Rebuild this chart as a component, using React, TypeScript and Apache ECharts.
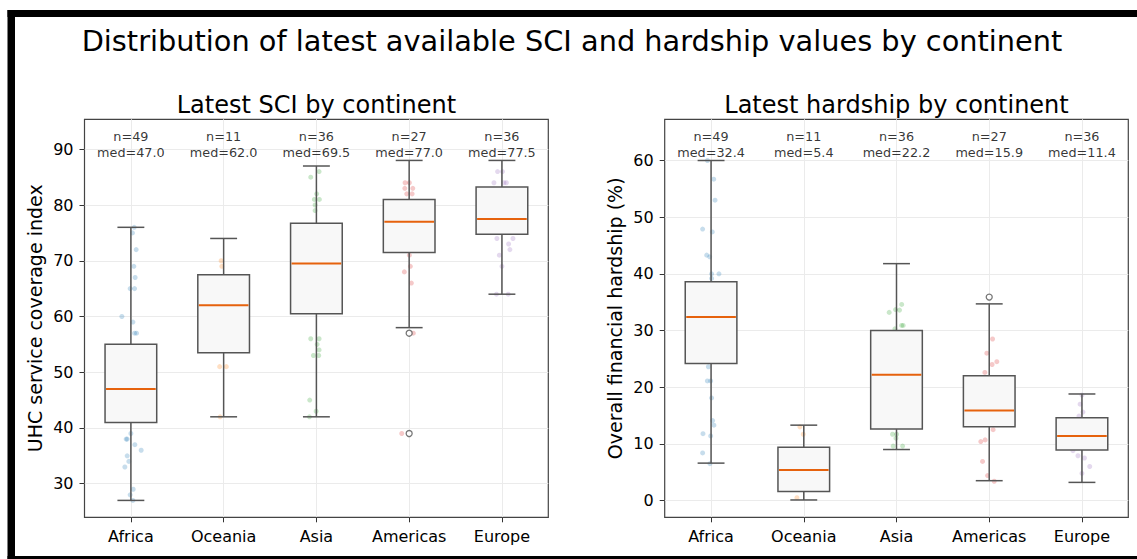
import React, { useEffect, useRef } from 'react';
import * as echarts from 'echarts';

const FONT = 'DejaVu Sans';

const continents = ['Africa', 'Oceania', 'Asia', 'Americas', 'Europe'];
const counts = [49, 11, 36, 27, 36];
const pointColors = ['#1f77b4', '#ff7f0e', '#2ca02c', '#d62728', '#9467bd'];

// SCI box statistics
const sciLow = [27, 42, 42, 58, 64];
const sciQ1 = [41, 53.5, 60.5, 71.5, 74.75];
const sciMed = [47.0, 62.0, 69.5, 77.0, 77.5];
const sciQ3 = [55, 67.5, 76.75, 81, 83.25];
const sciHigh = [76, 74, 87, 88, 88];
const sciOutliers = [[3, 57], [3, 39]];
const sciTicks = [30, 40, 50, 60, 70, 80, 90];

// Hardship box statistics
const hardLow = [6.6, 0.1, 9.0, 3.5, 3.2];
const hardQ1 = [24.2, 1.6, 12.6, 13.0, 8.9];
const hardMed = [32.4, 5.4, 22.2, 15.9, 11.4];
const hardQ3 = [38.6, 9.4, 30.0, 22.0, 14.6];
const hardHigh = [60.0, 13.3, 41.8, 34.7, 18.8];
const hardOutliers = [[3, 35.9]];
const hardTicks = [0, 10, 20, 30, 40, 50, 60];

// jittered points: [offset from category centre, value]
const sciAfrica = [[0.036, 76], [0.017, 75], [0.057, 72], [0.032, 69], [0.046, 67], [-0.008, 65], [0.04, 65], [-0.097, 60], [0.022, 59], [0.04, 57], [0.061, 57], [0.0, 39], [-0.04, 38], [-0.051, 38], [0.043, 37], [0.111, 36], [-0.04, 35], [-0.022, 34], [-0.065, 33], [0.025, 29], [-0.008, 28], [0.022, 27]];
const sciOceania = [[-0.027, 70], [-0.02, 69], [-0.043, 51], [0.029, 51], [-0.038, 42]];
const sciAsia = [[0.029, 86], [-0.061, 85], [0.003, 82], [-0.022, 81], [0.032, 81], [-0.014, 80], [-0.014, 79], [-0.061, 56], [0.029, 56], [0.008, 55], [0.029, 54], [-0.032, 53], [0.025, 53], [-0.072, 45], [-0.003, 43], [-0.075, 42]];
const sciAmericas = [[-0.044, 84], [0.002, 84], [-0.047, 83], [0.039, 83], [-0.026, 82], [0.032, 82], [0.002, 71], [0.013, 69], [-0.052, 68], [0.024, 66], [0.045, 57], [-0.08, 39]];
const sciEurope = [[-0.047, 86], [0.006, 86], [-0.086, 84], [0.022, 84], [0.048, 84], [-0.054, 74], [0.119, 74], [0.072, 73], [0.086, 72], [-0.028, 71], [0.0, 69], [-0.059, 64], [0.068, 64]];

const hardAfrica = [[-0.039, 60.0], [0.029, 56.7], [0.043, 53.0], [-0.091, 47.9], [0.013, 47.4], [-0.047, 43.3], [-0.015, 43.0], [0.006, 40.0], [0.085, 40.0], [0.006, 39.2], [-0.029, 23.6], [-0.04, 21.1], [-0.004, 21.1], [0.006, 18.1], [0.017, 14.1], [0.031, 13.3], [-0.087, 11.8], [-0.004, 11.4], [-0.091, 8.4], [-0.012, 6.5]];
const hardOceania = [[-0.042, 13.0], [-0.006, 11.7], [-0.074, 0.5]];
const hardAsia = [[0.056, 34.6], [-0.079, 33.2], [-0.01, 33.7], [0.033, 33.6], [0.055, 30.9], [0.072, 30.9], [-0.017, 30.3], [-0.043, 11.7], [0.001, 11.7], [-0.006, 11.0], [-0.036, 9.6], [0.066, 9.6]];
const hardAmericas = [[0.036, 28.5], [-0.026, 26.0], [0.031, 24.0], [0.082, 24.5], [-0.047, 22.6], [0.042, 12.5], [-0.091, 10.4], [-0.044, 10.7], [-0.072, 6.9], [-0.018, 4.4], [0.054, 3.4]];
const hardEurope = [[0.0, 18.6], [-0.02, 17.0], [0.011, 15.6], [-0.032, 14.9], [-0.097, 8.8], [-0.043, 7.9], [0.027, 7.5], [0.084, 6.0], [0.0, 4.8]];

const sciPoints = [sciAfrica, sciOceania, sciAsia, sciAmericas, sciEurope];
const hardPoints = [hardAfrica, hardOceania, hardAsia, hardAmericas, hardEurope];

const BOX_EDGE = '#555555';
const MEDIAN = '#e6620d';
const GRIDLINE = '#ebebeb';

function boxRender(params: any, api: any) {
  const idx = api.value(0);
  const lo = api.coord([idx, api.value(1)]);
  const q1 = api.coord([idx, api.value(2)]);
  const md = api.coord([idx, api.value(3)]);
  const q3 = api.coord([idx, api.value(4)]);
  const hi = api.coord([idx, api.value(5)]);
  const band = api.size([1, 0])[0];
  const bw = band * 0.557;
  const cw = band * 0.29;
  const cx = q1[0];
  const ls = { stroke: BOX_EDGE, lineWidth: 1.5, fill: null };
  return {
    type: 'group',
    children: [
      { type: 'line', shape: { x1: cx, y1: q3[1], x2: cx, y2: hi[1] }, style: ls },
      { type: 'line', shape: { x1: cx, y1: q1[1], x2: cx, y2: lo[1] }, style: ls },
      { type: 'line', shape: { x1: cx - cw / 2, y1: hi[1], x2: cx + cw / 2, y2: hi[1] }, style: ls },
      { type: 'line', shape: { x1: cx - cw / 2, y1: lo[1], x2: cx + cw / 2, y2: lo[1] }, style: ls },
      {
        type: 'rect',
        shape: { x: cx - bw / 2, y: q3[1], width: bw, height: q1[1] - q3[1] },
        style: { fill: '#f8f8f8', stroke: BOX_EDGE, lineWidth: 1.5 },
      },
      { type: 'line', shape: { x1: cx - bw / 2 + 1, y1: md[1], x2: cx + bw / 2 - 1, y2: md[1] }, style: { stroke: MEDIAN, lineWidth: 2 } },
    ],
  };
}

function buildOption() {
  const catAxis = (gi: number) => ({
    gridIndex: gi,
    type: 'category',
    data: continents,
    boundaryGap: true,
    axisLine: { show: false, onZero: false },
    axisTick: { show: true, interval: 0, alignWithLabel: true, length: 5, lineStyle: { color: '#333', width: 1 } },
    axisLabel: { interval: 0, fontSize: 16, color: '#000', margin: 11, fontFamily: FONT },
    splitLine: { show: true, interval: 0, alignWithLabel: true, lineStyle: { color: GRIDLINE, width: 1 } },
  });
  const valAxisHidden = (gi: number) => ({ gridIndex: gi, type: 'value', min: -0.5, max: 4.5, show: false, axisLine: { onZero: false } });
  const yAx = (gi: number, min: number, max: number, ticks: number[], name: string) => ({
    gridIndex: gi,
    type: 'value',
    min,
    max,
    name,
    nameLocation: 'middle',
    nameGap: 40,
    nameTextStyle: { fontSize: 19, color: '#000', fontFamily: FONT },
    axisLine: { show: false, onZero: false },
    axisTick: { show: true, length: 5, customValues: ticks, lineStyle: { color: '#333', width: 1 } },
    axisLabel: { fontSize: 16, color: '#000', margin: 11, fontFamily: FONT, customValues: ticks },
    splitLine: { show: true, lineStyle: { color: GRIDLINE, width: 1 } },
  });

  const series: any[] = [];
  const panels = [
    { gi: 0, pts: sciPoints, low: sciLow, q1: sciQ1, med: sciMed, q3: sciQ3, high: sciHigh, out: sciOutliers, annotY: 90.86 },
    { gi: 1, pts: hardPoints, low: hardLow, q1: hardQ1, med: hardMed, q3: hardQ3, high: hardHigh, out: hardOutliers, annotY: 62.82 },
  ];
  panels.forEach((p) => {
    p.pts.forEach((arr, ci) => {
      series.push({
        type: 'scatter',
        xAxisIndex: 2 + p.gi,
        yAxisIndex: p.gi,
        symbolSize: 5,
        silent: true,
        z: 1,
        itemStyle: { color: pointColors[ci], opacity: 0.25 },
        data: arr.map(([o, v]) => [ci + o, v]),
      });
    });
    series.push({
      type: 'custom',
      xAxisIndex: p.gi,
      yAxisIndex: p.gi,
      z: 2,
      silent: true,
      renderItem: boxRender,
      encode: { x: 0, y: [1, 2, 3, 4, 5] },
      data: continents.map((_, i) => [i, p.low[i], p.q1[i], p.med[i], p.q3[i], p.high[i]]),
    });
    series.push({
      type: 'scatter',
      xAxisIndex: 2 + p.gi,
      yAxisIndex: p.gi,
      symbol: 'circle',
      symbolSize: 6,
      z: 3,
      silent: true,
      itemStyle: { color: '#ffffff', borderColor: BOX_EDGE, borderWidth: 1.3 },
      data: p.out,
    });
    series.push({
      type: 'scatter',
      xAxisIndex: p.gi,
      yAxisIndex: p.gi,
      symbolSize: 0,
      z: 4,
      silent: true,
      data: continents.map((_, i) => [i, p.annotY]),
      label: {
        show: true,
        position: 'inside',
        fontSize: 12.8,
        lineHeight: 15.6,
        color: '#000',
        fontFamily: FONT,
        formatter: (prm: any) => `n=${counts[prm.dataIndex]}\nmed=${p.med[prm.dataIndex].toFixed(1)}`,
      },
    });
  });

  return {
    animation: false,
    backgroundColor: '#ffffff',
    textStyle: { fontFamily: FONT },
    grid: [
      { left: 84.5, top: 119.3, width: 463.8, height: 398, show: true, borderColor: '#444', borderWidth: 1.2, backgroundColor: 'transparent' },
      { left: 664.7, top: 119.3, width: 463.6, height: 398, show: true, borderColor: '#444', borderWidth: 1.2, backgroundColor: 'transparent' },
    ],
    xAxis: [catAxis(0), catAxis(1), valAxisHidden(0), valAxisHidden(1)],
    yAxis: [
      yAx(0, 23.97, 95.38, sciTicks, 'UHC service coverage index'),
      yAx(1, -2.96, 67.27, hardTicks, 'Overall financial hardship (%)'),
    ],
    graphic: [
      { type: 'rect', shape: { x: 7.5, y: 10, width: 1130, height: 7 }, style: { fill: '#000' } },
      { type: 'rect', shape: { x: 7.5, y: 10, width: 7.5, height: 549 }, style: { fill: '#000' } },
      { type: 'rect', shape: { x: 7.5, y: 556, width: 1130, height: 3 }, style: { fill: '#000' } },
      { type: 'text', x: 572, y: 40.5, style: { text: 'Distribution of latest available SCI and hardship values by continent', fontSize: 28.8, fontFamily: FONT, fill: '#000', textAlign: 'center', textVerticalAlign: 'middle' } },
      { type: 'text', x: 316.4, y: 105, style: { text: 'Latest SCI by continent', fontSize: 24, fontFamily: FONT, fill: '#000', textAlign: 'center', textVerticalAlign: 'middle' } },
      { type: 'text', x: 896.5, y: 105, style: { text: 'Latest hardship by continent', fontSize: 24, fontFamily: FONT, fill: '#000', textAlign: 'center', textVerticalAlign: 'middle' } },
    ],
    series,
  };
}

export default function App() {
  const ref = useRef<HTMLDivElement>(null);
  useEffect(() => {
    const chart = echarts.init(ref.current as HTMLDivElement, null, { renderer: 'svg' });
    chart.setOption(buildOption() as any);
    return () => chart.dispose();
  }, []);
  return (
    <div
      ref={ref}
      style={{ position: 'fixed', left: 0, top: 0, width: 1137, height: 559, background: '#fff' }}
    />
  );
}
